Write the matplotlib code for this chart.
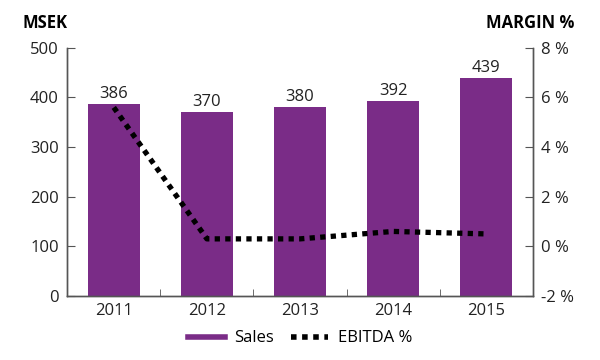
import matplotlib.pyplot as plt
from matplotlib.lines import Line2D

plt.rcParams['font.family'] = ['Open Sans', 'DejaVu Sans']

years = ['2011', '2012', '2013', '2014', '2015']
sales = [386, 370, 380, 392, 439]
ebitda = [5.6, 0.3, 0.3, 0.6, 0.5]

bar_color = '#7a2c87'
axis_color = '#555555'

fig = plt.figure(figsize=(6, 3.6), dpi=100)
ax = fig.add_axes([0.112, 0.178, 0.776, 0.689])
ax2 = ax.twinx()

x = range(len(years))
ax.bar(x, sales, width=0.56, color=bar_color, zorder=2)
for xi, v in zip(x, sales):
    ax.text(xi, v + 4, str(v), ha='center', va='bottom', fontsize=12, color='#222222')

ax.set_xlim(-0.5, 4.5)
ax.set_ylim(0, 500)
ax.set_yticks([0, 100, 200, 300, 400, 500])
ax.set_xticks(list(x))
ax.set_xticklabels(years)
ax.set_xticks([0.5, 1.5, 2.5, 3.5], minor=True)
ax.tick_params(axis='x', which='major', length=0, labelsize=12, pad=5, colors='#222222')
ax.tick_params(axis='x', which='minor', length=5, direction='in', color=axis_color)
ax.tick_params(axis='y', length=6, direction='in', labelsize=12, colors='#222222', color=axis_color, pad=6)

ax2.plot(list(x), ebitda, color='black', linestyle=(0, (1, 1)), linewidth=3.8, zorder=3)
ax2.set_ylim(-2, 8)
ax2.set_yticks([-2, 0, 2, 4, 6, 8])
ax2.set_yticklabels(['-2 %', '0 %', '2 %', '4 %', '6 %', '8 %'])
ax2.tick_params(axis='y', length=6, direction='in', labelsize=12, colors='#222222', color=axis_color, pad=6)

for a in (ax, ax2):
    a.spines['top'].set_visible(False)
    for s in ('left', 'right', 'bottom'):
        a.spines[s].set_color(axis_color)
        a.spines[s].set_linewidth(1)

fig.text(0.037, 0.935, 'MSEK', fontsize=12, fontweight='bold', ha='left', va='center')
fig.text(0.957, 0.935, 'MARGIN %', fontsize=12, fontweight='bold', ha='right', va='center')

handles = [Line2D([0], [0], color=bar_color, linewidth=4),
           Line2D([0], [0], color='black', linestyle=(0, (1, 1)), linewidth=4)]
fig.legend(handles, ['Sales', 'EBITDA %'], loc='center', bbox_to_anchor=(0.5, 0.06),
           ncol=2, frameon=False, fontsize=12, handlelength=2.2, columnspacing=1.0, handletextpad=0.6)

fig.savefig('out.png', dpi=100)
